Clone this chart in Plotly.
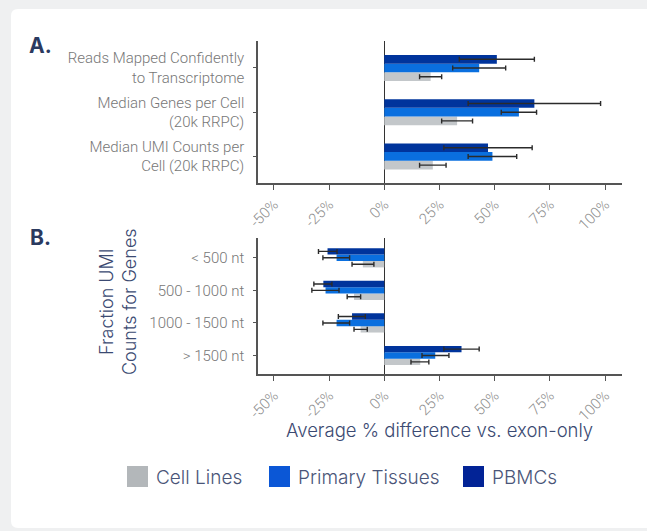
import plotly.graph_objects as go

# ---- data -----------------------------------------------------------------
groups = ["Cell Lines", "Primary Tissues", "PBMCs"]

# Panel A: summary metrics (listed bottom-to-top)
metrics_a = ["Median UMI Counts per<br>Cell (20k RRPC)",
             "Median Genes per Cell<br>(20k RRPC)",
             "Reads Mapped Confidently<br>to Transcriptome"]
a_cell = [22, 33, 21]
a_cell_lo = [16, 26, 16]
a_cell_hi = [28, 40, 26]
a_primary = [49, 61, 43]
a_primary_lo = [38, 53, 31]
a_primary_hi = [60, 69, 55]
a_pbmc = [47, 68, 51]
a_pbmc_lo = [27, 38, 34]
a_pbmc_hi = [67, 98, 68]

# Panel B: fraction of UMI counts by gene length (listed bottom-to-top)
lengths_b = ["> 1500 nt", "1000 - 1500 nt", "500 - 1000 nt", "< 500 nt"]
b_cell = [16.3, -10.7, -13.7, -9.7]
b_cell_lo = [12.1, -13.7, -16.8, -14.6]
b_cell_hi = [20.2, -7.7, -10.7, -4.7]
b_primary = [23.1, -21.6, -26.6, -21.6]
b_primary_lo = [17.1, -27.8, -32.8, -27.8]
b_primary_hi = [29.3, -15.7, -20.5, -15.7]
b_pbmc = [35.0, -14.6, -27.6, -25.7]
b_pbmc_lo = [27.0, -20.8, -31.9, -29.8]
b_pbmc_hi = [43.0, -8.6, -23.7, -21.4]

tick_vals = [-50, -25, 0, 25, 50, 75, 100]
tick_text = ["-50%", "-25%", "0%", "25%", "50%", "75%", "100%"]

# ---- styling --------------------------------------------------------------
W, H = 647, 531
bar_colors = {"Cell Lines": "#c3c7ca", "Primary Tissues": "#0a6fdf", "PBMCs": "#00349c"}
legend_colors = {"Cell Lines": "#b3b7ba", "Primary Tissues": "#0b57d6", "PBMCs": "#022396"}
navy = "#3b4a72"
label_gray = "#777777"
axis_gray = "#555555"


def px(x):
    return x / W


def py(y):
    return 1 - y / H


def add_group(fig, name, cats, vals, lo, hi, xa, ya):
    fig.add_trace(go.Bar(
        orientation="h", y=cats, x=vals, name=name,
        marker=dict(color=bar_colors[name], line=dict(width=0)),
        error_x=dict(type="data", symmetric=False,
                     array=[h - v for h, v in zip(hi, vals)],
                     arrayminus=[v - l for v, l in zip(vals, lo)],
                     color="#2b2b2b", thickness=1.4, width=2.5),
        xaxis=xa, yaxis=ya, showlegend=False, hoverinfo="x+y+name",
    ))


fig = go.Figure()
series_a = [(a_cell, a_cell_lo, a_cell_hi), (a_primary, a_primary_lo, a_primary_hi),
            (a_pbmc, a_pbmc_lo, a_pbmc_hi)]
series_b = [(b_cell, b_cell_lo, b_cell_hi), (b_primary, b_primary_lo, b_primary_hi),
            (b_pbmc, b_pbmc_lo, b_pbmc_hi)]
for name, (v, l, h) in zip(groups, series_a):
    add_group(fig, name, metrics_a, v, l, h, "x", "y")
for name, (v, l, h) in zip(groups, series_b):
    add_group(fig, name, lengths_b, v, l, h, "x2", "y2")

x_common = dict(
    range=[-57.2, 107.7], tickvals=tick_vals, ticktext=tick_text, tickangle=-45,
    tickfont=dict(family="Roboto", size=15, color="#8e8e8e", weight=300),
    showline=True, linecolor=axis_gray, linewidth=1.5,
    ticks="outside", ticklen=5, tickcolor=axis_gray, tickwidth=1,
    showgrid=False, zeroline=True, zerolinecolor="#333333", zerolinewidth=1.2,
    domain=[px(258), px(622)], fixedrange=True, automargin=False,
)
y_common = dict(
    type="category", showline=True, linecolor=axis_gray, linewidth=1.5,
    ticks="outside", ticklen=3, tickcolor=axis_gray, showgrid=False,
    zeroline=False, fixedrange=True, automargin=False,
)

fig.update_layout(
    width=W, height=H,
    margin=dict(l=0, r=0, t=0, b=0, autoexpand=False),
    paper_bgcolor="#eff0f1", plot_bgcolor="rgba(0,0,0,0)",
    barmode="group", bargap=0.41, bargroupgap=0,
    xaxis=dict(x_common, anchor="y"),
    yaxis=dict(y_common, anchor="x", categoryorder="array", categoryarray=metrics_a,
               range=[-0.6, 2.61], domain=[py(183), py(41)],
               tickfont=dict(family="Roboto", size=15, color=label_gray, weight=300),
               ticklabelstandoff=6),
    xaxis2=dict(x_common, anchor="y2"),
    yaxis2=dict(y_common, anchor="x2", categoryorder="array", categoryarray=lengths_b,
                range=[-0.568, 3.608], domain=[py(374), py(238)],
                tickfont=dict(family="Roboto", size=15, color=label_gray, weight=300),
                ticklabelstandoff=6),
    showlegend=False,
)

# white card behind the figure
r = 7
x0, y0, x1, y1 = 11, 9, W + 5, 528
card = (f"M {px(x0 + r)},{py(y0)} L {px(x1)},{py(y0)} L {px(x1)},{py(y1)} "
        f"L {px(x0 + r)},{py(y1)} Q {px(x0)},{py(y1)} {px(x0)},{py(y1 - r)} "
        f"L {px(x0)},{py(y0 + r)} Q {px(x0)},{py(y0)} {px(x0 + r)},{py(y0)} Z")
fig.add_shape(type="path", path=card, xref="paper", yref="paper",
              fillcolor="white", line=dict(width=0), layer="below")

annotations = [
    dict(text="<b>A.</b>", x=px(27), y=py(45), xanchor="left", yanchor="middle",
         font=dict(family="Inter", size=21, color="#2b3a5f")),
    dict(text="<b>B.</b>", x=px(28), y=py(237), xanchor="left", yanchor="middle",
         font=dict(family="Inter", size=21, color="#2b3a5f")),
    dict(text="Fraction UMI<br>Counts for Genes", x=px(118), y=py(302), textangle=-90,
         xanchor="center", yanchor="middle",
         font=dict(family="Inter", size=18, color=navy, weight=300)),
    dict(text="Average % difference vs. exon-only", x=px(439), y=py(430),
         xanchor="center", yanchor="middle",
         font=dict(family="Inter", size=18.5, color=navy, weight=300)),
]

# legend: colour swatches with labels
legend_pos = {"Cell Lines": 127, "Primary Tissues": 269, "PBMCs": 463}
for name in groups:
    lx = legend_pos[name]
    fig.add_shape(type="rect", xref="paper", yref="paper",
                  x0=px(lx), x1=px(lx + 21), y0=py(487), y1=py(466),
                  fillcolor=legend_colors[name], line=dict(width=0))
    annotations.append(dict(text=name, x=px(lx + 27), y=py(477), xanchor="left",
                            yanchor="middle",
                            font=dict(family="Inter", size=19, color="#4a5578", weight=300)))

for a in annotations:
    a.update(xref="paper", yref="paper", showarrow=False)
fig.update_layout(annotations=annotations)

fig.write_html("out.html", post_script="document.body.style.margin='0';")
